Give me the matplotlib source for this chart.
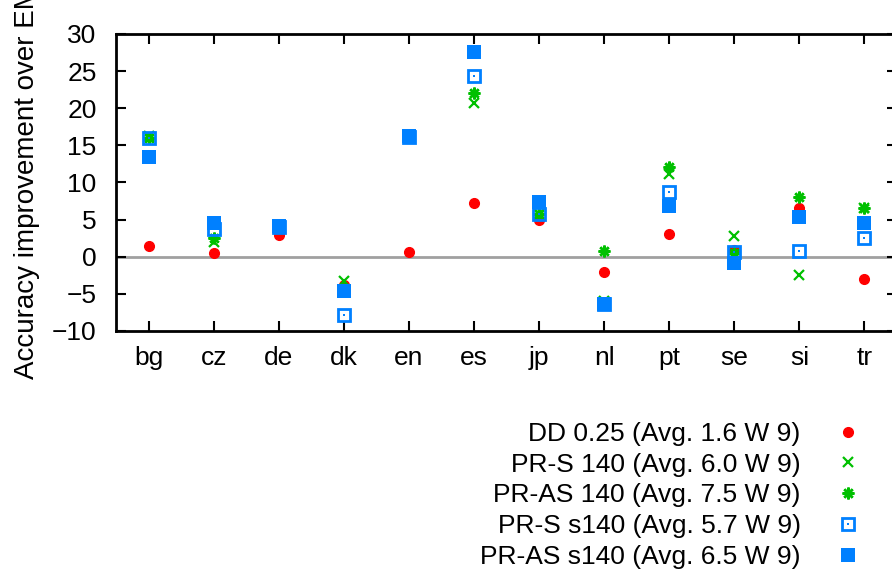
import matplotlib
matplotlib.use("Agg")
import matplotlib.pyplot as plt
import numpy as np

categories = ["bg", "cz", "de", "dk", "en", "es", "jp", "nl", "pt", "se", "si", "tr"]
dd_025 = [1.5, 0.45, 2.9, -3.8, 0.6, 7.2, 4.95, -2.0, 3.0, 0.9, 6.5, -3.0]
prs_140 = [16.2, 2.0, 4.1, -3.2, 16.1, 20.75, 5.8, -6.0, 11.2, 2.8, -2.4, 6.5]
pras_140 = [16.0, 2.5, 4.1, -4.3, 16.1, 22.1, 5.8, 0.8, 12.1, 0.5, 8.0, 6.6]
prs_s140 = [15.95, 3.8, 4.0, -7.85, 16.1, 24.4, 5.75, -6.4, 8.7, 0.6, 0.8, 2.5]
pras_s140 = [13.4, 4.5, 4.2, -4.6, 16.2, 27.6, 7.4, -6.4, 6.8, -0.8, 5.4, 4.55]
labels = ["DD 0.25 (Avg. 1.6 W 9)", "PR-S 140 (Avg. 6.0 W 9)", "PR-AS 140 (Avg. 7.5 W 9)",
          "PR-S s140 (Avg. 5.7 W 9)", "PR-AS s140 (Avg. 6.5 W 9)"]
yticks = [-10, -5, 0, 5, 10, 15, 20, 25, 30]

plt.rcParams['font.family'] = ['Liberation Sans', 'DejaVu Sans']
RED = "#ff0000"
GREEN = "#00c000"
BLUE = "#0080ff"
FS = 19

fig = plt.figure(figsize=(8.92, 5.73), dpi=100)
ax = fig.add_axes([116/892, (573-331)/573, (897-116)/892, (331-34)/573])
x = np.arange(len(categories))

ax.axhline(0, color="#a0a0a0", lw=2, zorder=1)
h1, = ax.plot(x, dd_025, ls="none", marker="o", ms=7, color=RED, zorder=3)
h2, = ax.plot(x, prs_140, ls="none", marker="x", ms=7.5, mew=1.6, color=GREEN, zorder=4)
h3, = ax.plot(x, pras_140, ls="none", marker=(8, 2, 0), ms=8.5, mew=1.8, color=GREEN, zorder=5)
h4a, = ax.plot(x, prs_s140, ls="none", marker="s", ms=8, mfc="none", mew=2, color=BLUE, zorder=6)
h4b, = ax.plot(x, prs_s140, ls="none", marker="s", ms=2, mew=0, color=BLUE, zorder=6)
h5, = ax.plot(x, pras_s140, ls="none", marker="s", ms=10, mew=0, color=BLUE, zorder=7)

ax.set_xlim(-0.5, 11.5)
ax.set_ylim(-10, 30)
ax.set_xticks(x)
ax.set_xticklabels(categories)
ax.set_yticks(yticks)
ax.tick_params(direction="in", length=7, width=1.5, labelsize=FS, top=True, right=True, pad=11)
ax.tick_params(axis="y", pad=14)
for s in ax.spines.values():
    s.set_linewidth(2)

fig.text(27/892, 1 - 379/573, "Accuracy improvement over EM", rotation=90,
         ha="center", va="bottom", fontsize=20)

leg = fig.legend([h1, h2, h3, (h4a, h4b), h5], labels, loc="upper right",
                 bbox_to_anchor=(856/892, 1 - 422/573), frameon=False, markerfirst=False,
                 fontsize=FS, handlelength=0.6, handletextpad=1.5, labelspacing=0.255,
                 borderaxespad=0, borderpad=0)
for t in leg.get_texts():
    t.set_ha("right")

fig.savefig("out.png", dpi=100)
